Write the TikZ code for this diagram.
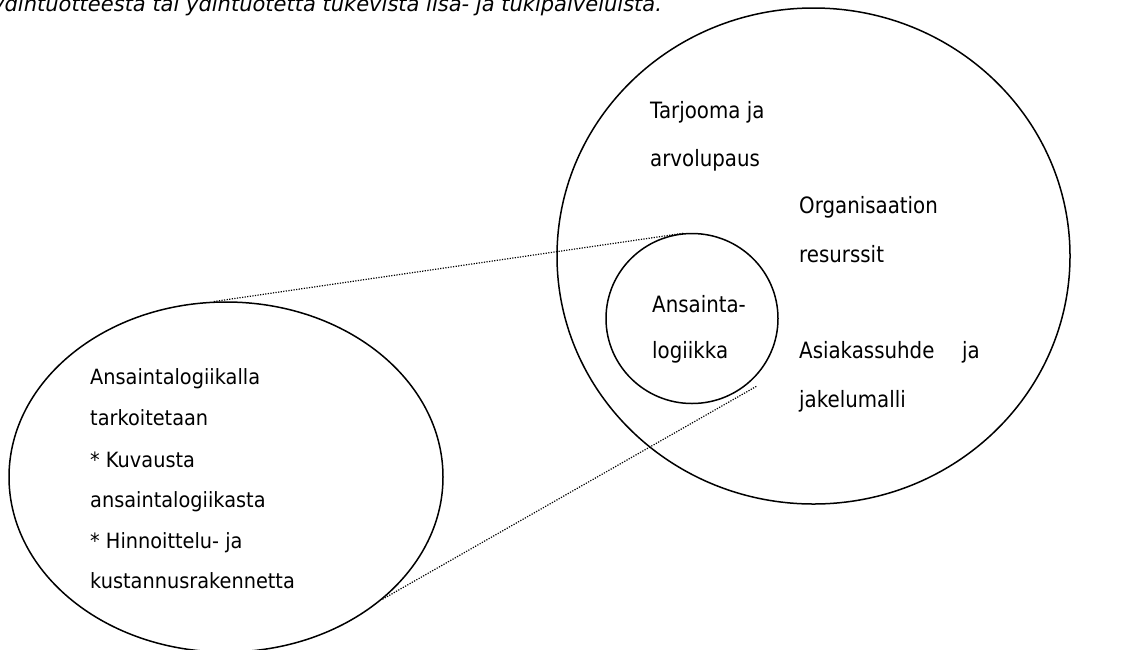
\documentclass[tikz,border=0pt]{standalone}
\usepackage{fontspec}
\setmainfont{DejaVu Sans}
\newfontfamily\bigfont{DejaVu Sans}[FakeStretch=0.88]
\newfontfamily\leftfont{DejaVu Sans}[FakeStretch=0.92]
\newfontfamily\topfont{DejaVu Sans}
\usetikzlibrary{shapes.geometric}
\tikzset{
  oval/.style={ellipse, draw, line width=1.5pt, inner sep=0pt},
  bigtxt/.style={anchor=base west, inner sep=0pt, font=\bigfont\fontsize{22.5}{26}\selectfont},
  lefttxt/.style={anchor=base west, inner sep=0pt, font=\leftfont\fontsize{21}{24}\selectfont},
  zoomline/.style={line width=1.2pt, dash pattern=on 1.2pt off 1.4pt}
}
\begin{document}
\begin{tikzpicture}[x=1pt,y=-1pt]
\useasboundingbox (0,0) rectangle (1148,649);
\clip (0,0) rectangle (1148,649);
\node[anchor=base west, inner sep=0pt, font=\topfont\itshape\fontsize{21}{24}\selectfont] (title) at (-8,11) {ydintuotteesta tai ydintuotetta tukevista lisä- ja tukipalveluista.};
% big ellipse
\node[oval, minimum width=513, minimum height=496] (big) at (813.5,256) {};
% small circle
\node[oval, minimum width=172, minimum height=170] (small) at (692,318.5) {};
% left ellipse
\node[oval, minimum width=434, minimum height=350] (left) at (226,477) {};
% texts in big ellipse
\node[bigtxt] (t1) at (650,118) {Tarjooma ja};
\node[bigtxt] (t2) at (650,166) {arvolupaus};
\node[bigtxt] (o1) at (799,213) {Organisaation};
\node[bigtxt] (o2) at (799,262) {resurssit};
\node[bigtxt] (a1) at (652,312) {Ansainta-};
\node[bigtxt] (a2) at (652,358) {logiikka};
\node[bigtxt] (k1) at (799,358) {Asiakassuhde};
\node[bigtxt] (k1b) at (962,358) {ja};
\node[bigtxt] (k2) at (799,407) {jakelumalli};
% texts in left ellipse
\node[lefttxt] (l1) at (90,384) {Ansaintalogiikalla};
\node[lefttxt] (l2) at (90,425) {tarkoitetaan};
\node[lefttxt] (l3) at (90,467) {*\ Kuvausta};
\node[lefttxt] (l4) at (90,507) {ansaintalogiikasta};
\node[lefttxt] (l5) at (90,548) {*\ Hinnoittelu- ja};
\node[lefttxt] (l6) at (90,588) {kustannusrakennetta};
% dotted zoom lines
\coordinate (z2) at (757,386);
\draw[zoomline] (left.94) -- (small.95);
\draw[zoomline] (left.-38.6) -- (z2);
\end{tikzpicture}
\end{document}
